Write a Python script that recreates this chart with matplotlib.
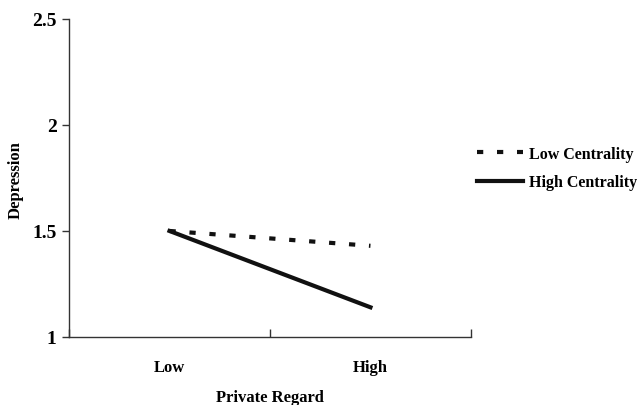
import matplotlib
matplotlib.use("Agg")
import matplotlib.pyplot as plt
from matplotlib.ticker import FixedLocator, NullFormatter

categories = ["Low", "High"]
low_centrality = [1.50, 1.43]
high_centrality = [1.50, 1.14]
y_ticks = [1, 1.5, 2, 2.5]
y_tick_labels = ["1", "1.5", "2", "2.5"]

plt.rcParams['font.family'] = ['Liberation Serif', 'DejaVu Serif']
plt.rcParams['font.weight'] = 'bold'

fig = plt.figure(figsize=(6.39, 4.06), dpi=100)
ax = fig.add_axes([0.108, 0.1675, 0.629, 0.7835])

x = list(range(len(categories)))
ax.plot(x, low_centrality, color='#111111', lw=3, linestyle=(0, (1.5, 3.3)), label='Low Centrality')
ax.plot(x, high_centrality, color='#111111', lw=3, linestyle='-', label='High Centrality')

ax.set_xlim(-0.5, 1.5)
ax.set_ylim(1, 2.5)
ax.set_yticks(y_ticks)
ax.set_yticklabels(y_tick_labels, fontsize=14, fontweight='bold')
ax.xaxis.set_major_locator(FixedLocator([-0.5, 0.5, 1.5]))
ax.xaxis.set_major_formatter(NullFormatter())
ax.xaxis.set_minor_locator(FixedLocator(x))
ax.set_xticklabels(categories, minor=True, fontsize=12, fontweight='bold')
ax.tick_params(axis='x', which='minor', length=0, pad=16)
ax.tick_params(axis='x', which='major', direction='in', length=6, width=1, color='#333333')
ax.tick_params(axis='y', direction='out', length=5, width=1, color='#333333', pad=4)

for s in ['top', 'right']:
    ax.spines[s].set_visible(False)
for s in ['left', 'bottom']:
    ax.spines[s].set_color('#333333')
    ax.spines[s].set_linewidth(1)

ax.set_xlabel('Private Regard', fontsize=12, fontweight='bold')
ax.xaxis.set_label_coords(0.5, (338 - 398) / 318)
ax.xaxis.label.set_verticalalignment('center')
ax.set_ylabel('Depression', fontsize=12, fontweight='bold')
ax.yaxis.set_label_coords((16 - 69) / 402, (338 - 180) / 318)
ax.yaxis.label.set_verticalalignment('center')

leg = ax.legend(loc='center left', bbox_to_anchor=(477 / 639, 1 - 169 / 406),
                bbox_transform=fig.transFigure, frameon=False, borderpad=0, borderaxespad=0,
                handlelength=2.9, handletextpad=0.35, labelspacing=0.8,
                prop={'weight': 'bold', 'size': 11.5})

fig.savefig('out.png', dpi=100)
